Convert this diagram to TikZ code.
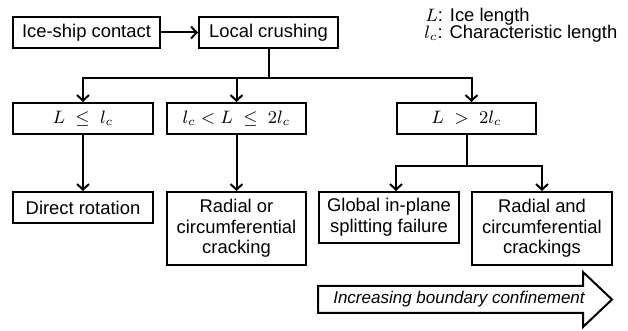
\documentclass[tikz,border=0pt]{standalone}
\usepackage{fontspec}
\setmainfont{Liberation Sans}
\usepackage{tikz}
\usetikzlibrary{arrows.meta,positioning,calc}
\tikzset{
  box/.style={draw,line width=1pt,align=center,inner sep=2pt,
              font=\fontsize{9.2}{10.3}\selectfont},
  cond/.style={box,minimum width=69.5pt,minimum height=15.5pt},
  res/.style={box,minimum width=70pt},
  ar/.style={-{Straight Barb[length=2.8pt,width=6pt,line width=1pt]},line width=1pt},
  ln/.style={line width=1pt},
  lgd/.style={font=\fontsize{9.2}{10.3}\selectfont,inner sep=0pt,anchor=west}
}

\begin{document}
\begin{tikzpicture}[x=0.5pt,y=-0.5pt]
  \useasboundingbox (0,0) rectangle (628,331);

  % top row
  \node[box,minimum width=73.5pt,minimum height=15.5pt] (contact) at (86.5,32.5) {Ice-ship contact};
  \node[box,minimum width=69.5pt,minimum height=15.5pt] (crush) at (268.5,32.5) {Local crushing};
  \draw[ar] (contact) -- (crush);

  % legend
  \node[lgd] (legL) at (425,17) {$L$: Ice length};
  \node[lgd] (leglc) at (424,34) {$l_c$: Characteristic length};

  % conditions
  \node[cond,minimum width=70pt] (c1) at (83,118.5) {$L\;\le\;l_c$};
  \node[cond] (c2) at (236.5,118.5) {$l_c<L\;\le\;2l_c$};
  \node[cond] (c3) at (466.5,118.5) {$L\;>\;2l_c$};

  \draw[ln] (crush.south) -- ++(0,29) coordinate (split);
  \draw[ar] (split) -| (c1.north);
  \draw[ar] (split) -| (c2.north);
  \draw[ar] (split) -| ([xshift=2.5pt]c3.north);

  % outcomes
  \node[res,minimum height=15.5pt] (rot) at (83,207.5) {Direct rotation};
  \node[res,minimum width=69.5pt,minimum height=36.5pt] (rad1) at (236.5,228.5)
    {Radial or\\circumferential\\cracking};
  \node[res,minimum height=25.5pt] (glob) at (389,217.5)
    {Global in-plane\\splitting failure};
  \node[res,minimum height=36.5pt] (rad2) at (542,228.5)
    {Radial and\\circumferential\\crackings};

  \draw[ar] (c1) -- (rot);
  \draw[ar] (c2) -- (rad1);
  \draw[ln] (c3.south) -- ++(0,31) coordinate (fork);
  \draw[ar] (fork) -| ([xshift=3.5pt]glob.north);
  \draw[ar] (fork) -| (rad2.north);

  % confinement arrow
  \draw[line width=1pt,line join=miter] (318,286) -- (583,286) -- (583,272) -- (612,299.5)
    -- (583,327) -- (583,313) -- (318,313) -- cycle;
  \node[font=\fontsize{8.5}{10}\selectfont\itshape] (conf) at (459,299.5)
    {Increasing boundary confinement};
\end{tikzpicture}
\end{document}
